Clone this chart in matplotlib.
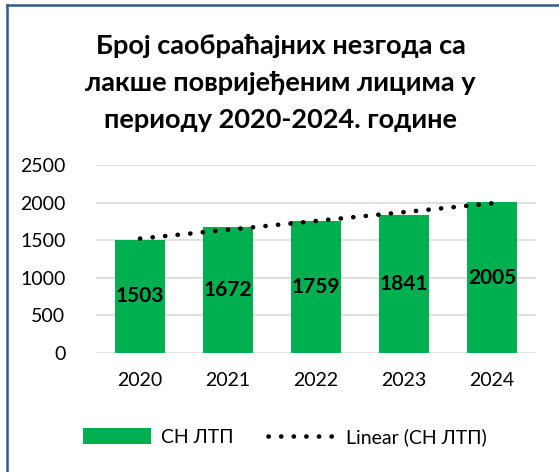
import matplotlib
matplotlib.use("Agg")
import matplotlib.pyplot as plt
from matplotlib.lines import Line2D
from matplotlib.patches import Patch
import numpy as np

plt.rcParams['font.family'] = ['Lato', 'Noto Sans', 'DejaVu Sans']

years = ['2020', '2021', '2022', '2023', '2024']
values = [1503, 1672, 1759, 1841, 2005]
yticks = [0, 500, 1000, 1500, 2000, 2500]
title = 'Број саобраћајних незгода са\nлакше повријеђеним лицима у\nпериоду 2020-2024. године'
series_name = 'СН ЛТП'
trend_name = 'Linear (СН ЛТП)'

green = '#00B050'
dots = (0, (0.05, 2.7))

fig = plt.figure(figsize=(5.59, 4.72), dpi=100)
ax = fig.add_axes([96/559, 1-353/472, 440/559, 188/472])

x = np.arange(len(years))
ax.bar(x, values, width=0.57, color=green, zorder=2)
for xi, v in zip(x, values):
    ax.text(xi, v/2, str(v), ha='center', va='center', fontsize=15,
            fontweight='bold', color='black', zorder=3)

coef = np.polyfit(x + 1, values, 1)
tx = np.linspace(0, len(years) - 1, 200)
ty = np.polyval(coef, tx + 1)
ax.plot(tx, ty, color='black', linestyle=dots, linewidth=3.3,
        dash_capstyle='round', zorder=4)

ax.set_xlim(-0.5, len(years) - 0.5)
ax.set_ylim(0, 2500)
ax.set_yticks(yticks)
ax.set_yticklabels([str(t) for t in yticks], fontsize=14)
ax.set_xticks(x)
ax.set_xticklabels(years, fontsize=14)
ax.tick_params(axis='both', length=0)
ax.tick_params(axis='x', pad=14)
ax.tick_params(axis='y', pad=22)
ax.grid(axis='y', color='#D9D9D9', linewidth=1.2, zorder=0)
for s in ax.spines.values():
    s.set_visible(False)

fig.text(0.502, 1 - 83/472, title, ha='center', va='center', fontsize=19.5,
         fontweight='bold', linespacing=1.62)

handles = [Patch(facecolor=green, edgecolor='none'),
           Line2D([0], [0], color='black', linestyle=dots,
                  linewidth=3.3, dash_capstyle='round')]
fig.legend(handles, [series_name, trend_name], loc='center',
           bbox_to_anchor=(0.51, 1 - 437/472), ncol=2, frameon=False,
           fontsize=14, handlelength=3.5, handleheight=0.9,
           columnspacing=1.8, handletextpad=0.5)

border = '#2F5D8A'
fig.add_artist(Line2D([7/559, 7/559], [0, 1 - 5/472], color=border, linewidth=1.8,
                      transform=fig.transFigure))
fig.add_artist(Line2D([7/559, 1], [1 - 5/472, 1 - 5/472], color=border, linewidth=1.8,
                      transform=fig.transFigure))

fig.savefig('out.png', dpi=100)
